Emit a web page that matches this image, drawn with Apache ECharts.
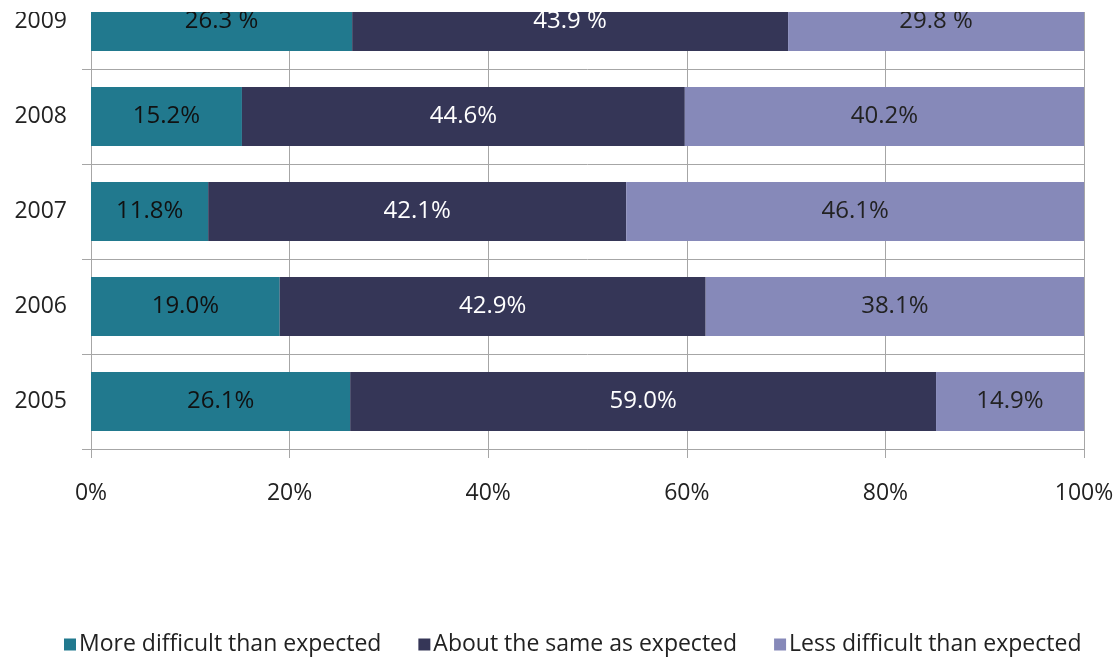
<!DOCTYPE html>
<html>
<head>
<meta charset="utf-8">
<script src="https://cdn.jsdelivr.net/npm/echarts@6/dist/echarts.min.js"></script>
<style>
  html, body { margin: 0; padding: 0; background: #fff; overflow: hidden; }
  /* the drawing starts above the visible edge, so the 2009 row is partly hidden */
  #chart { position: absolute; left: 0; top: -26px; width: 1120px; height: 684px; }
</style>
</head>
<body>
<div id="chart"></div>
<script>
// Survey years, bottom to top
const years = ['2005', '2006', '2007', '2008', '2009'];

// Share of respondents per answer, in percent
const moreDifficult = [26.1, 19.0, 11.8, 15.2, 26.3];
const aboutSame     = [59.0, 42.9, 42.1, 44.6, 43.9];
const lessDifficult = [14.9, 38.1, 46.1, 40.2, 29.8];

const seriesNames = ['More difficult than expected', 'About the same as expected', 'Less difficult than expected'];
const xTicks = [0, 20, 40, 60, 80, 100];

const colors = ['#21798E', '#353657', '#8689B9'];
const labelColors = ['#111', '#fff', '#222'];
const fontFamily = '"Open Sans", Lato, sans-serif';

function pctLabel(p) {
  // the 2009 figures are printed with a space before the percent sign
  const sep = years[p.dataIndex] === '2009' ? ' %' : '%';
  return p.value.toFixed(1) + sep;
}

const seriesData = [moreDifficult, aboutSame, lessDifficult];

const chart = echarts.init(document.getElementById('chart'), null, { renderer: 'canvas' });
chart.setOption({
  animation: false,
  color: colors,
  grid: { left: 91, right: 36, top: 0, bottom: 209, containLabel: false },
  xAxis: {
    type: 'value',
    min: 0, max: 100, interval: 20,
    axisLine: { show: true, lineStyle: { color: '#a6a6a6', width: 1 } },
    axisTick: { show: true, length: 9, lineStyle: { color: '#a6a6a6' } },
    splitLine: { show: true, lineStyle: { color: '#a6a6a6', width: 1 } },
    axisLabel: {
      margin: 33,
      color: '#222',
      fontFamily: fontFamily,
      fontSize: 23,
      formatter: v => (xTicks.includes(v) ? v + '%' : '')
    }
  },
  yAxis: {
    type: 'category',
    data: years,
    axisLine: { show: true, lineStyle: { color: '#a6a6a6', width: 1 } },
    axisTick: { show: true, length: 9, lineStyle: { color: '#a6a6a6' } },
    splitLine: { show: true, lineStyle: { color: '#a6a6a6', width: 1 } },
    axisLabel: {
      margin: 24,
      color: '#222',
      fontFamily: fontFamily,
      fontSize: 23
    }
  },
  legend: {
    top: 654,
    left: 59,
    itemWidth: 12,
    itemHeight: 12,
    itemGap: 37,
    icon: 'rect',
    textStyle: { color: '#222', fontFamily: fontFamily, fontSize: 23, padding: [0, 0, 0, -2] },
    data: seriesNames
  },
  graphic: [{
    type: 'rect',
    shape: { x: 0, y: 0, width: 1120, height: 38 },
    style: { fill: '#fff' },
    z: 100
  }],
  series: seriesNames.map((name, i) => ({
    name: name,
    type: 'bar',
    stack: 'total',
    barWidth: '62%',
    data: seriesData[i],
    itemStyle: { color: colors[i] },
    label: {
      show: true,
      position: 'inside',
      color: labelColors[i],
      fontFamily: fontFamily,
      fontSize: 24,
      formatter: pctLabel
    }
  }))
});
</script>
</body>
</html>
